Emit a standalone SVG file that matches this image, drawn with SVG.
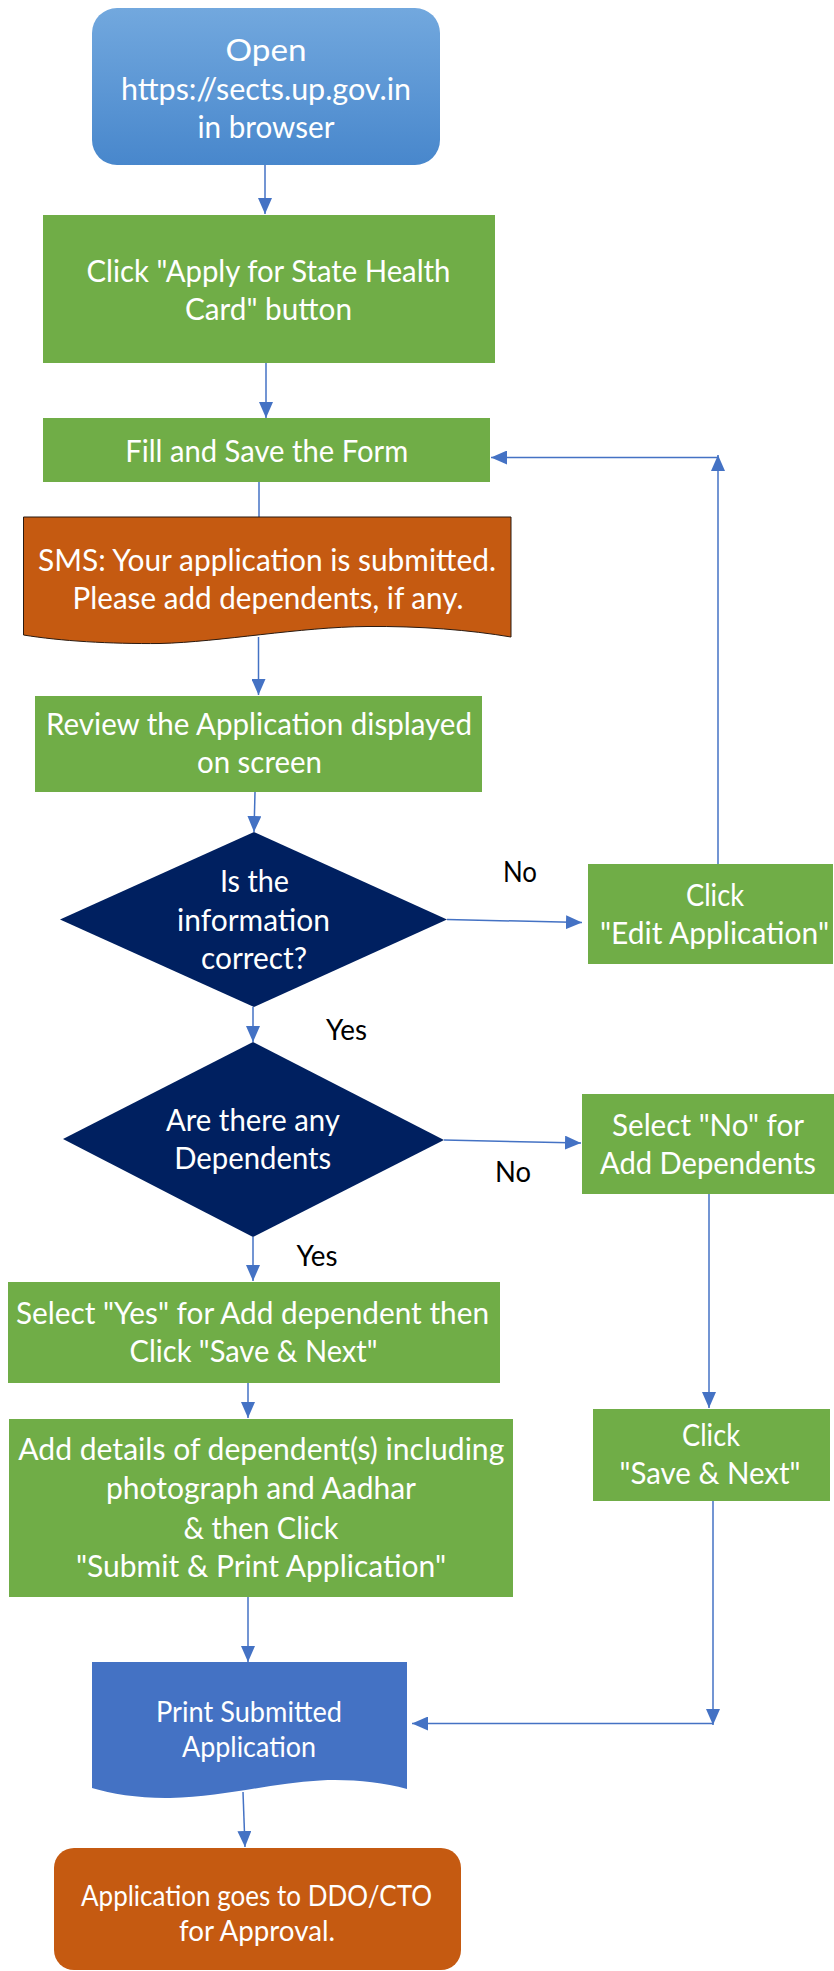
<svg xmlns="http://www.w3.org/2000/svg" width="834" height="1971" viewBox="0 0 834 1971">
<style>
.t{font-family:Lato,"Liberation Sans",sans-serif;fill:#ffffff;font-size:30px;text-anchor:middle}
.s{font-size:28px}
.lbl{font-family:Lato,"Liberation Sans",sans-serif;fill:#000000;font-size:28px;text-anchor:middle}
.green{fill:#70AD47}
.navy{fill:#002060}
.c{fill:none;stroke:#4472C4;stroke-width:1.5}
.a{marker-end:url(#ah)}
</style>
<defs>
<linearGradient id="gOpen" x1="0" y1="0" x2="0" y2="1">
<stop offset="0" stop-color="#72A8DE"/>
<stop offset="1" stop-color="#4887CC"/>
</linearGradient>
<marker id="ah" viewBox="0 0 16 14" refX="16" refY="7" markerWidth="16" markerHeight="14" markerUnits="userSpaceOnUse" orient="auto">
<path d="M0,0 L16,7 L0,14 Z" fill="#4472C4"/>
</marker>
</defs>

<g id="connectors">
<line class="c a" x1="265" y1="165" x2="265" y2="214"/>
<line class="c a" x1="266" y1="363" x2="266" y2="418"/>
<line class="c a" x1="718" y1="864" x2="718" y2="455"/>
<line class="c a" x1="718" y1="457.5" x2="491" y2="457.5"/>
<line class="c" x1="259" y1="482" x2="259" y2="517"/>
<line class="c a" x1="258.5" y1="637" x2="258.5" y2="695"/>
<line class="c a" x1="255" y1="792" x2="254" y2="832"/>
<line class="c a" x1="447" y1="919.5" x2="582" y2="922.5"/>
<line class="c a" x1="253" y1="1007" x2="253" y2="1042"/>
<line class="c a" x1="444" y1="1140" x2="581" y2="1143"/>
<line class="c a" x1="709" y1="1177" x2="709" y2="1408"/>
<line class="c a" x1="253" y1="1237" x2="253" y2="1281"/>
<line class="c a" x1="248" y1="1383" x2="248" y2="1418"/>
<line class="c a" x1="248" y1="1582" x2="248" y2="1662"/>
<line class="c a" x1="713" y1="1501" x2="713" y2="1725"/>
<line class="c a" x1="713" y1="1723.5" x2="412" y2="1723.5"/>
<line class="c a" x1="243" y1="1792" x2="245" y2="1847"/>
</g>

<g id="open">
<rect x="92" y="8" width="348" height="157" rx="25" fill="url(#gOpen)"/>
<text class="t" x="266" y="61" font-size="36" textLength="81" lengthAdjust="spacingAndGlyphs">Open</text>
<text class="t" x="266" y="100" textLength="290" lengthAdjust="spacingAndGlyphs">https://sects.up.gov.in</text>
<text class="t" x="266" y="138" textLength="137" lengthAdjust="spacingAndGlyphs">in browser</text>
</g>

<g id="apply">
<rect class="green" x="43" y="215" width="452" height="148"/>
<text class="t" x="268.5" y="282" textLength="364" lengthAdjust="spacingAndGlyphs">Click "Apply for State Health</text>
<text class="t" x="268.5" y="320" textLength="167" lengthAdjust="spacingAndGlyphs">Card" button</text>
</g>

<g id="fill">
<rect class="green" x="43" y="418" width="447" height="64"/>
<text class="t" x="266.7" y="461.5" textLength="283" lengthAdjust="spacingAndGlyphs">Fill and Save the Form</text>
</g>

<g id="sms">
<path d="M23.5,517 H511 V637 C470,630 420,626 367,626.5 C300,627 220,642 160,643.5 C110,644 60,641 23.5,635 Z" fill="#C55A11" stroke="#2a1a10" stroke-width="1"/>
<text class="t" x="267" y="570.5" textLength="458" lengthAdjust="spacingAndGlyphs">SMS: Your application is submitted.</text>
<text class="t" x="268" y="609" textLength="391" lengthAdjust="spacingAndGlyphs">Please add dependents, if any.</text>
</g>

<g id="review">
<rect class="green" x="35" y="696" width="447" height="96"/>
<text class="t" x="259" y="735" textLength="426" lengthAdjust="spacingAndGlyphs">Review the Application displayed</text>
<text class="t" x="259.5" y="773" textLength="125" lengthAdjust="spacingAndGlyphs">on screen</text>
</g>

<g id="decision-info">
<polygon class="navy" points="254,832 447,919.5 254,1007 60,919.5"/>
<text class="t" x="254.5" y="892" textLength="69" lengthAdjust="spacingAndGlyphs">Is the</text>
<text class="t" x="253.5" y="931" textLength="153" lengthAdjust="spacingAndGlyphs">information</text>
<text class="t" x="254" y="969" textLength="106" lengthAdjust="spacingAndGlyphs">correct?</text>
</g>

<g id="label-no-1">
<text class="lbl" x="520" y="882" textLength="34" lengthAdjust="spacingAndGlyphs">No</text>
</g>

<g id="edit">
<rect class="green" x="588" y="864" width="245" height="100"/>
<text class="t" x="715" y="906" textLength="58" lengthAdjust="spacingAndGlyphs">Click</text>
<text class="t" x="714.5" y="944" textLength="229" lengthAdjust="spacingAndGlyphs">"Edit Application"</text>
</g>

<g id="label-yes-1">
<text class="lbl" x="346.5" y="1040" textLength="41" lengthAdjust="spacingAndGlyphs">Yes</text>
</g>

<g id="decision-dependents">
<polygon class="navy" points="253,1042 444,1140 253,1237 63,1139"/>
<text class="t" x="253" y="1131" textLength="174" lengthAdjust="spacingAndGlyphs">Are there any</text>
<text class="t" x="252.8" y="1169" textLength="157" lengthAdjust="spacingAndGlyphs">Dependents</text>
</g>

<g id="label-no-2">
<text class="lbl" x="513" y="1182" textLength="36" lengthAdjust="spacingAndGlyphs">No</text>
</g>

<g id="select-no">
<rect class="green" x="582" y="1094" width="252" height="100"/>
<text class="t" x="708" y="1136" textLength="192" lengthAdjust="spacingAndGlyphs">Select "No" for</text>
<text class="t" x="708" y="1174" textLength="216" lengthAdjust="spacingAndGlyphs">Add Dependents</text>
</g>

<g id="label-yes-2">
<text class="lbl" x="317" y="1266" textLength="41" lengthAdjust="spacingAndGlyphs">Yes</text>
</g>

<g id="select-yes">
<rect class="green" x="8" y="1282" width="492" height="101"/>
<text class="t" x="252.5" y="1324" textLength="473" lengthAdjust="spacingAndGlyphs">Select "Yes" for Add dependent then</text>
<text class="t" x="253.5" y="1362" textLength="248" lengthAdjust="spacingAndGlyphs">Click "Save &amp; Next"</text>
</g>

<g id="add-details">
<rect class="green" x="9" y="1419" width="504" height="178"/>
<text class="t" x="261.3" y="1460" textLength="486" lengthAdjust="spacingAndGlyphs">Add details of dependent(s) including</text>
<text class="t" x="261" y="1498.5" textLength="310" lengthAdjust="spacingAndGlyphs">photograph and Aadhar</text>
<text class="t" x="261" y="1538.5" textLength="155" lengthAdjust="spacingAndGlyphs">&amp; then Click</text>
<text class="t" x="261" y="1577" textLength="370" lengthAdjust="spacingAndGlyphs">"Submit &amp; Print Application"</text>
</g>

<g id="click-save">
<rect class="green" x="593" y="1409" width="237" height="92"/>
<text class="t" x="711" y="1446" textLength="58" lengthAdjust="spacingAndGlyphs">Click</text>
<text class="t" x="710" y="1484" textLength="181" lengthAdjust="spacingAndGlyphs">"Save &amp; Next"</text>
</g>

<g id="print">
<path d="M92,1662 H407 V1789 C380,1782 350,1779 320,1780.5 C270,1783 225,1797 170,1798 C140,1798.5 112,1794 92,1788 Z" fill="#4472C4"/>
<text class="t s" x="249" y="1722" textLength="186" lengthAdjust="spacingAndGlyphs">Print Submitted</text>
<text class="t s" x="249" y="1757" textLength="134" lengthAdjust="spacingAndGlyphs">Application</text>
</g>

<g id="final">
<rect x="54" y="1848" width="407" height="122" rx="20" fill="#C55A11"/>
<text class="t s" x="256.5" y="1906" textLength="351" lengthAdjust="spacingAndGlyphs">Application goes to DDO/CTO</text>
<text class="t s" x="257" y="1941" textLength="156" lengthAdjust="spacingAndGlyphs">for Approval.</text>
</g>
</svg>
